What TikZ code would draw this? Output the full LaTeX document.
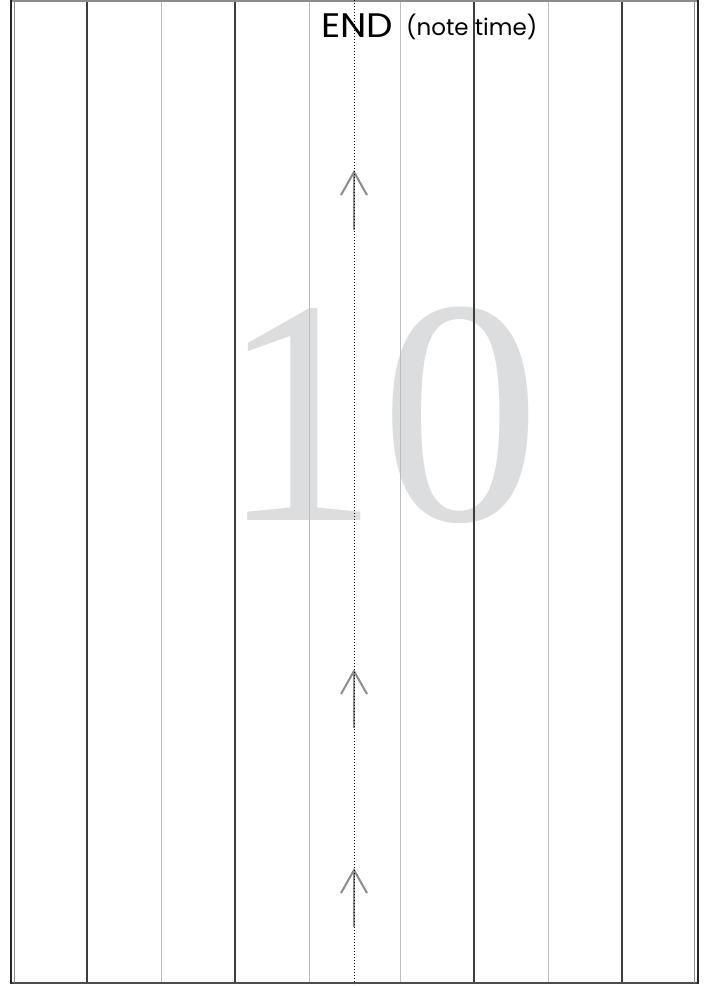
\documentclass[tikz,border=0pt]{standalone}
\usepackage{fontspec}
\setmainfont{Liberation Serif}
\newfontfamily\geofont{Poppins}
\usetikzlibrary{arrows.meta}
\definecolor{numgray}{RGB}{220,221,223}
\definecolor{lanedark}{RGB}{60,60,60}
\definecolor{lanelight}{RGB}{190,190,190}
\definecolor{arrowgray}{RGB}{140,140,140}
\tikzset{
  darklane/.style={lanedark, line width=1.3},
  lightlane/.style={lanelight, line width=1},
  travel/.style={arrowgray, line width=2, -{Straight Barb[length=23pt, width=26pt]}},
  centreline/.style={black, line width=0.8, dash pattern=on 0.8pt off 2.2pt}
}

\begin{document}
\begin{tikzpicture}[x=1pt, y=-1pt]
\useasboundingbox (0,0) rectangle (707,986);
\node[numgray, anchor=base, inner sep=0, font=\fontsize{321}{321}\selectfont] (bar) at (380,520) {10};
% lanes
\foreach \x in {87,235,474,622} \draw[darklane] (\x,0) -- (\x,984);
\foreach \x in {161,309,400,548} \draw[lightlane] (\x,0) -- (\x,984);
% frame
\draw[black!45, line width=1.5] (10,1) -- (699,1);
\draw[black!70, line width=1.5] (10,983) -- (699,983);
\draw[black!85, line width=2.6] (11,0) -- (11,984);
\draw[black!45, line width=1.2] (14.5,0) -- (14.5,983);
\draw[black!45, line width=1.2] (694.5,0) -- (694.5,983);
\draw[black!85, line width=2.6] (698,0) -- (698,984);
\node[anchor=base west, inner sep=0, xscale=1.1, font=\geofont\fontsize{34}{34}\selectfont] (endlbl) at (321,37) {END};
\node[anchor=base west, inner sep=0, font=\geofont\fontsize{23}{23}\selectfont] (notelbl) at (406,35) {(note time)};
% travel arrows
\coordinate (t1) at (354,230); \coordinate (h1) at (354,170);
\coordinate (t2) at (354,728); \coordinate (h2) at (354,669);
\coordinate (t3) at (354,927); \coordinate (h3) at (354,868);
\draw[travel] (t1) -- (h1);
\draw[travel] (t2) -- (h2);
\draw[travel] (t3) -- (h3);
\draw[centreline] (354,0) -- (354,984);
\end{tikzpicture}
\end{document}
